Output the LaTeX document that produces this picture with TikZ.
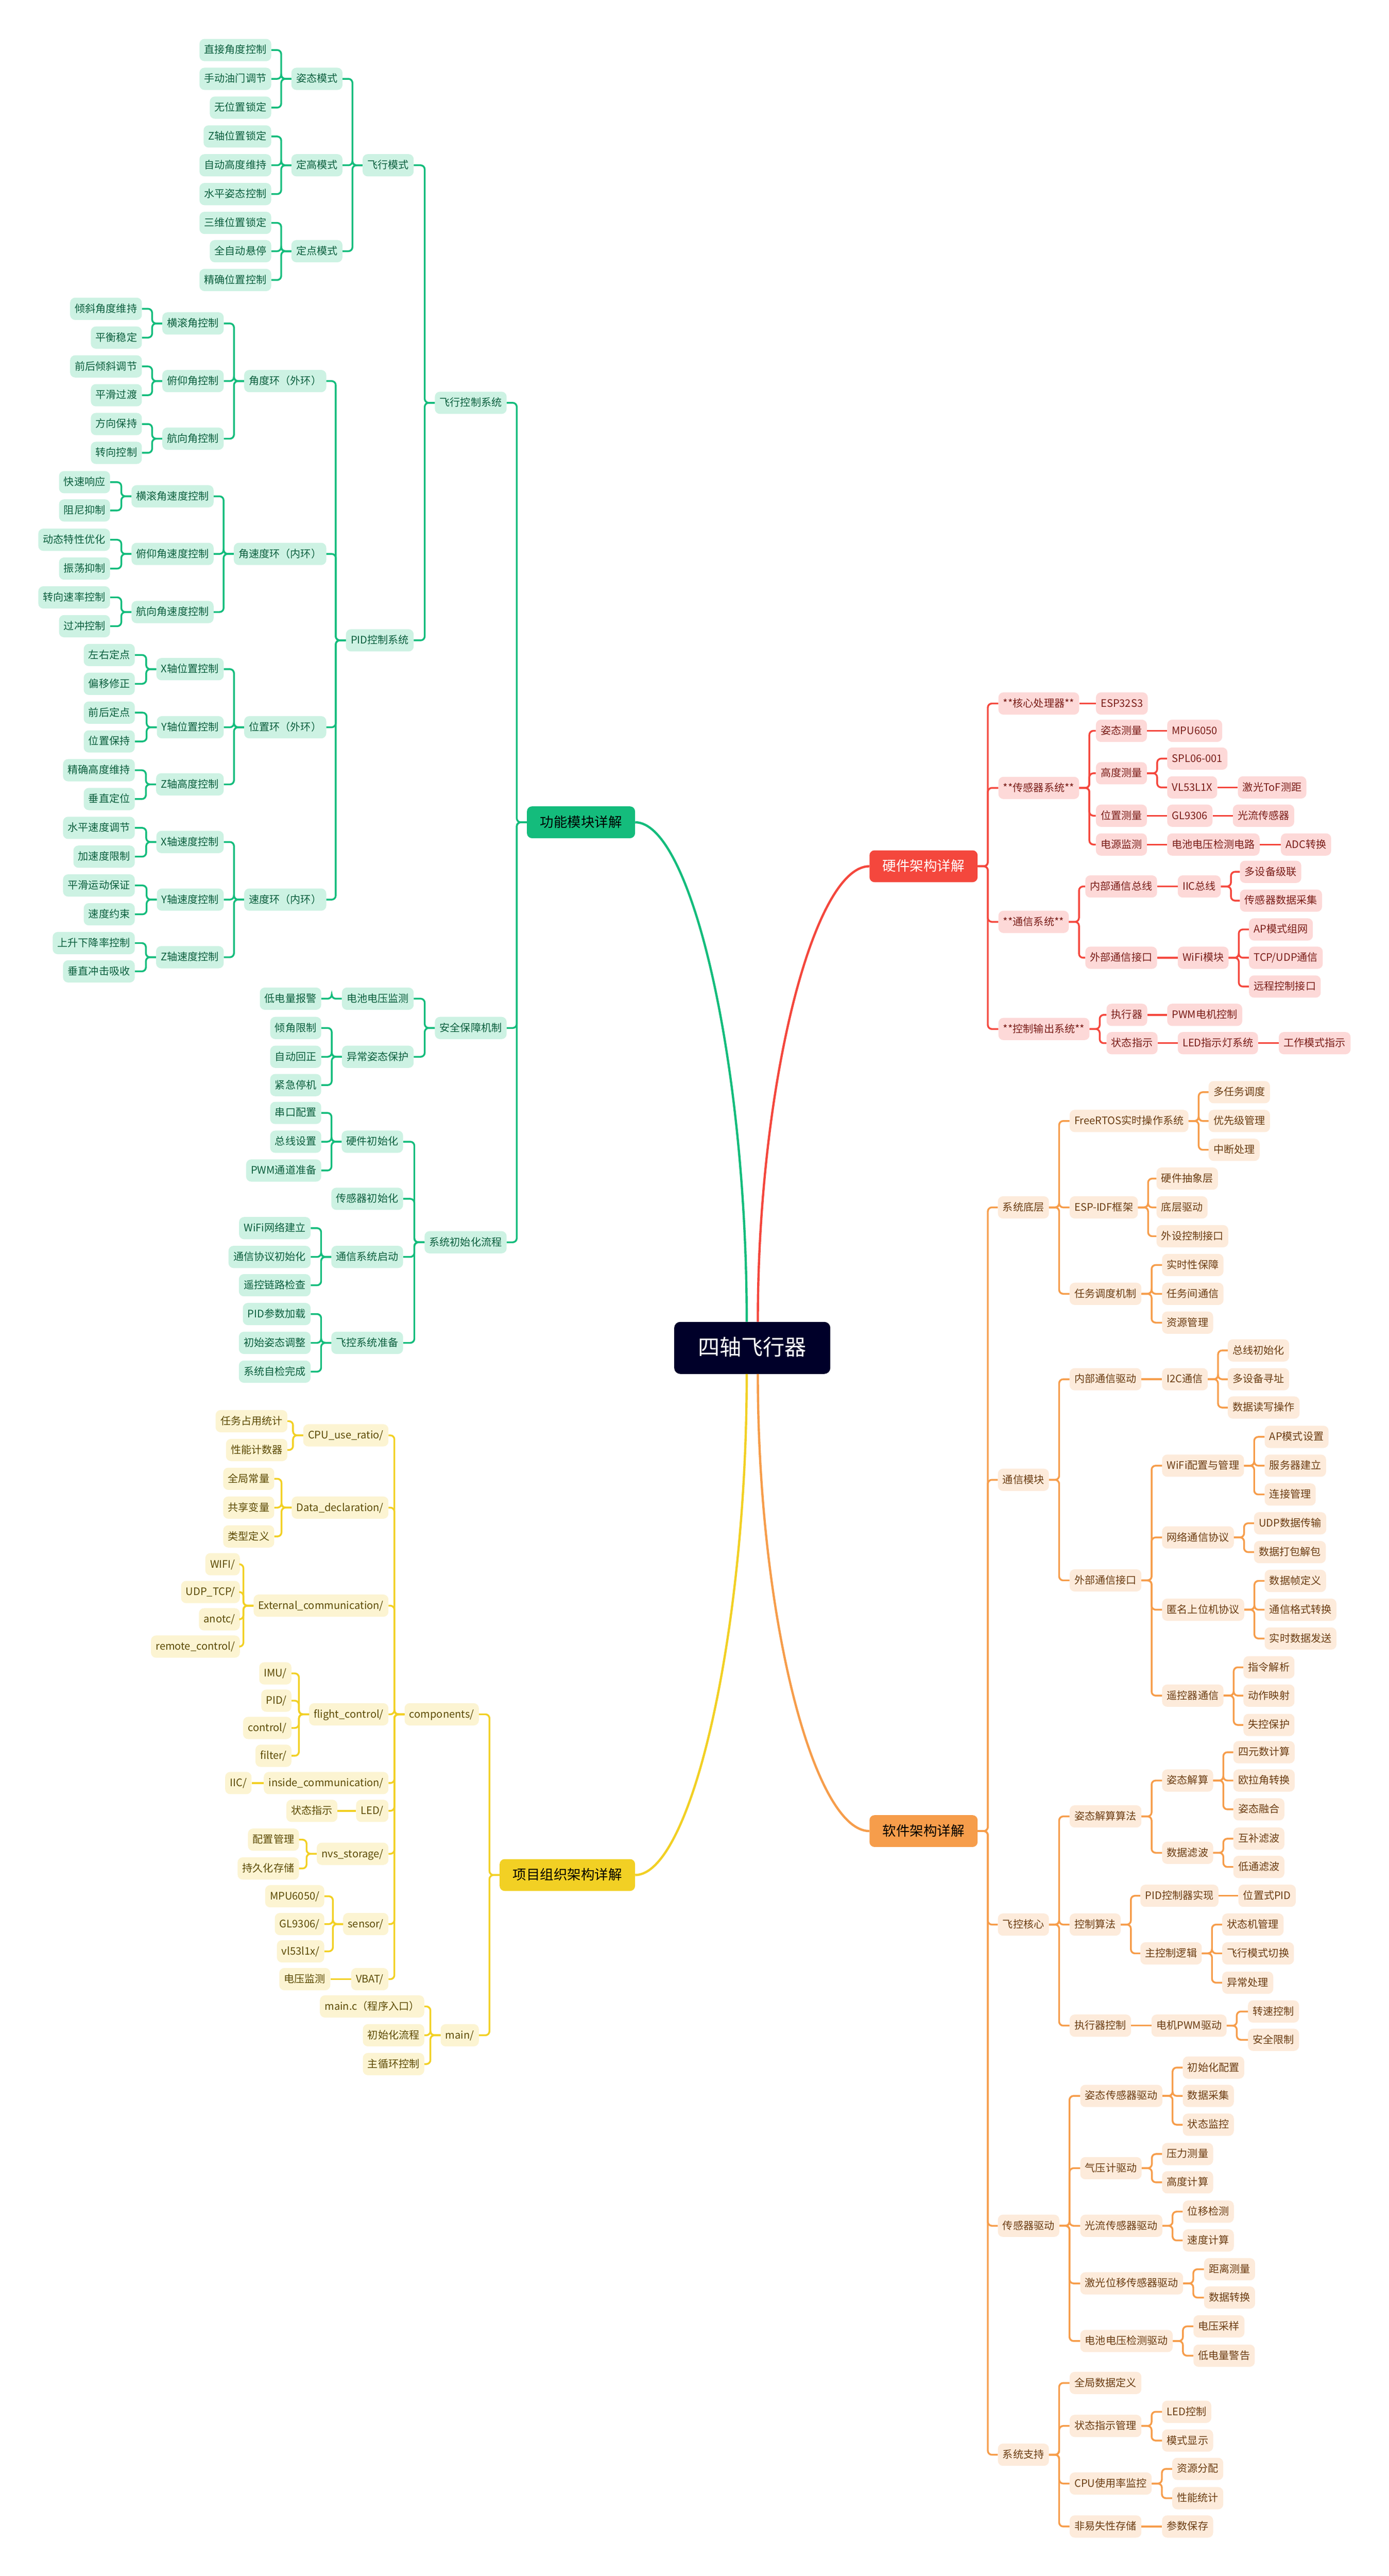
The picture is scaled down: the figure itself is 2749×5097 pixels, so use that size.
\documentclass[tikz,border=0pt]{standalone}
\usepackage{fontspec}
\setmainfont{Noto Sans CJK SC}
\definecolor{rootbg}{HTML}{000029}
\definecolor{gcol}{HTML}{14BC7C}
\definecolor{gfill}{HTML}{CDF2E3}
\definecolor{gtext}{HTML}{0B5E3D}
\definecolor{rcol}{HTML}{F4473D}
\definecolor{rfill}{HTML}{FDD9D8}
\definecolor{rtext}{HTML}{7A1D18}
\definecolor{ocol}{HTML}{F69D4B}
\definecolor{ofill}{HTML}{FDEBDB}
\definecolor{otext}{HTML}{6B3C12}
\definecolor{ycol}{HTML}{F2D024}
\definecolor{yfill}{HTML}{FCF4D2}
\definecolor{ytext}{HTML}{5C4A05}
\tikzset{
  box/.style={rounded corners=10pt,inner xsep=9.5pt,inner ysep=0pt,minimum height=44pt,
    text height=17pt,text depth=3pt,font=\fontsize{20.5}{24}\selectfont},
  gbox/.style={box,fill=gfill,text=gtext,anchor=east},
  ybox/.style={box,fill=yfill,text=ytext,anchor=east},
  rbox/.style={box,fill=rfill,text=rtext,anchor=west},
  obox/.style={box,fill=ofill,text=otext,anchor=west},
  topic/.style={rounded corners=10pt,inner xsep=26pt,inner ysep=0pt,minimum height=63pt,
    text height=23pt,text depth=4pt,font=\fontsize{27}{30}\selectfont},
  rootbox/.style={rounded corners=12pt,fill=rootbg,text=white,inner xsep=47pt,inner ysep=0pt,
    minimum height=103pt,text height=36pt,text depth=6pt,font=\fontsize{43}{46}\selectfont},
  gline/.style={draw=gcol,line width=3.5pt,rounded corners=8pt},
  yline/.style={draw=ycol,line width=3.5pt,rounded corners=8pt},
  rline/.style={draw=rcol,line width=3.5pt,rounded corners=8pt},
  oline/.style={draw=ocol,line width=3.5pt,rounded corners=8pt},
  curve/.style={line width=4.5pt}
}
\begin{document}
\begin{tikzpicture}[x=1pt,y=-1pt]
  \fill[white](0,0) rectangle (2749,5097);
  \useasboundingbox (0,0) rectangle (2749,5097);
  \node[rootbox](root) at (1489,2667) {四轴飞行器};
  \node[topic,fill=gcol,text=black](fm) at (1150,1627) {功能模块详解};
  \node[topic,fill=rcol,text=white](rm) at (1828,1714) {硬件架构详解};
  \node[topic,fill=ocol,text=black](om) at (1828,3623) {软件架构详解};
  \node[topic,fill=ycol,text=black](ym) at (1123,3710) {项目组织架构详解};
  \draw[curve,gcol]([xshift=-11pt]root.north)..controls +(0,-520) and +(110,0)..(fm.east);
  \draw[curve,rcol]([xshift=11pt]root.north)..controls +(0,-470) and +(-110,0)..(rm.west);
  \draw[curve,ycol]([xshift=-11pt]root.south)..controls +(0,520) and +(110,0)..(ym.east);
  \draw[curve,ocol]([xshift=11pt]root.south)..controls +(0,480) and +(-110,0)..(om.west);

  % 功能模块
  \node[gbox](g1) at (1003,797) {飞行控制系统};
  \node[gbox](g2) at (1003,2034) {安全保障机制};
  \node[gbox](g3) at (1003,2458) {系统初始化流程};
  \node[gbox](g11) at (819,327) {飞行模式};
  \node[gbox](g12) at (819,1267) {PID控制系统};
  \node[gbox](g111) at (678,156) {姿态模式};
  \node[gbox](g112) at (678,327) {定高模式};
  \node[gbox](g113) at (678,497) {定点模式};
  \node[gbox](g1111) at (537,99) {直接角度控制};
  \node[gbox](g1112) at (537,156) {手动油门调节};
  \node[gbox](g1113) at (537,213) {无位置锁定};
  \node[gbox](g1121) at (537,270) {Z轴位置锁定};
  \node[gbox](g1122) at (537,327) {自动高度维持};
  \node[gbox](g1123) at (537,384) {水平姿态控制};
  \node[gbox](g1131) at (537,441) {三维位置锁定};
  \node[gbox](g1132) at (537,497) {全自动悬停};
  \node[gbox](g1133) at (537,554) {精确位置控制};
  \node[gbox](g121) at (646,754) {角度环（外环）};
  \node[gbox](g122) at (646,1096) {角速度环（内环）};
  \node[gbox](g123) at (646,1439) {位置环（外环）};
  \node[gbox](g124) at (646,1780) {速度环（内环）};
  \node[gbox](g1211) at (443,640) {横滚角控制};
  \node[gbox](g1212) at (443,754) {俯仰角控制};
  \node[gbox](g1213) at (443,868) {航向角控制};
  \node[gbox](g12111) at (281,611) {倾斜角度维持};
  \node[gbox](g12112) at (281,668) {平衡稳定};
  \node[gbox](g12121) at (281,725) {前后倾斜调节};
  \node[gbox](g12122) at (281,782) {平滑过渡};
  \node[gbox](g12131) at (281,839) {方向保持};
  \node[gbox](g12132) at (281,896) {转向控制};
  \node[gbox](g1221) at (423,982) {横滚角速度控制};
  \node[gbox](g1222) at (423,1096) {俯仰角速度控制};
  \node[gbox](g1223) at (423,1211) {航向角速度控制};
  \node[gbox](g12211) at (218,954) {快速响应};
  \node[gbox](g12212) at (218,1010) {阻尼抑制};
  \node[gbox](g12221) at (218,1068) {动态特性优化};
  \node[gbox](g12222) at (218,1125) {振荡抑制};
  \node[gbox](g12231) at (218,1182) {转向速率控制};
  \node[gbox](g12232) at (218,1239) {过冲控制};
  \node[gbox](g1231) at (443,1324) {X轴位置控制};
  \node[gbox](g1232) at (443,1439) {Y轴位置控制};
  \node[gbox](g1233) at (443,1552) {Z轴高度控制};
  \node[gbox](g12311) at (267,1296) {左右定点};
  \node[gbox](g12312) at (267,1353) {偏移修正};
  \node[gbox](g12321) at (267,1410) {前后定点};
  \node[gbox](g12322) at (267,1467) {位置保持};
  \node[gbox](g12331) at (267,1524) {精确高度维持};
  \node[gbox](g12332) at (267,1581) {垂直定位};
  \node[gbox](g1241) at (443,1666) {X轴速度控制};
  \node[gbox](g1242) at (443,1780) {Y轴速度控制};
  \node[gbox](g1243) at (443,1894) {Z轴速度控制};
  \node[gbox](g12411) at (267,1638) {水平速度调节};
  \node[gbox](g12412) at (267,1695) {加速度限制};
  \node[gbox](g12421) at (267,1752) {平滑运动保证};
  \node[gbox](g12422) at (267,1809) {速度约束};
  \node[gbox](g12431) at (267,1866) {上升下降率控制};
  \node[gbox](g12432) at (267,1922) {垂直冲击吸收};
  \node[gbox](g21) at (819,1976) {电池电压监测};
  \node[gbox](g22) at (819,2091) {异常姿态保护};
  \node[gbox](g211) at (636,1976) {低电量报警};
  \node[gbox](g221) at (636,2034) {倾角限制};
  \node[gbox](g222) at (636,2091) {自动回正};
  \node[gbox](g223) at (636,2147) {紧急停机};
  \node[gbox](g31) at (798,2259) {硬件初始化};
  \node[gbox](g32) at (798,2372) {传感器初始化};
  \node[gbox](g33) at (798,2487) {通信系统启动};
  \node[gbox](g34) at (798,2657) {飞控系统准备};
  \node[gbox](g311) at (636,2202) {串口配置};
  \node[gbox](g312) at (636,2259) {总线设置};
  \node[gbox](g313) at (636,2316) {PWM通道准备};
  \node[gbox](g331) at (615,2430) {WiFi网络建立};
  \node[gbox](g332) at (615,2487) {通信协议初始化};
  \node[gbox](g333) at (615,2543) {遥控链路检查};
  \node[gbox](g341) at (615,2600) {PID参数加载};
  \node[gbox](g342) at (615,2657) {初始姿态调整};
  \node[gbox](g343) at (615,2714) {系统自检完成};
  \draw[gline](fm.west)--++(-20,0)|-(g1.east);
  \draw[gline](fm.west)--++(-20,0)|-(g2.east);
  \draw[gline](fm.west)--++(-20,0)|-(g3.east);
  \draw[gline](g1.west)--++(-20,0)|-(g11.east);
  \draw[gline](g1.west)--++(-20,0)|-(g12.east);
  \draw[gline](g11.west)--++(-20,0)|-(g111.east);
  \draw[gline](g11.west)--++(-20,0)|-(g112.east);
  \draw[gline](g11.west)--++(-20,0)|-(g113.east);
  \draw[gline](g111.west)--++(-20,0)|-(g1111.east);
  \draw[gline](g111.west)--++(-20,0)|-(g1112.east);
  \draw[gline](g111.west)--++(-20,0)|-(g1113.east);
  \draw[gline](g112.west)--++(-20,0)|-(g1121.east);
  \draw[gline](g112.west)--++(-20,0)|-(g1122.east);
  \draw[gline](g112.west)--++(-20,0)|-(g1123.east);
  \draw[gline](g113.west)--++(-20,0)|-(g1131.east);
  \draw[gline](g113.west)--++(-20,0)|-(g1132.east);
  \draw[gline](g113.west)--++(-20,0)|-(g1133.east);
  \draw[gline](g12.west)--++(-20,0)|-(g121.east);
  \draw[gline](g12.west)--++(-20,0)|-(g122.east);
  \draw[gline](g12.west)--++(-20,0)|-(g123.east);
  \draw[gline](g12.west)--++(-20,0)|-(g124.east);
  \draw[gline](g121.west)--++(-20,0)|-(g1211.east);
  \draw[gline](g121.west)--++(-20,0)|-(g1212.east);
  \draw[gline](g121.west)--++(-20,0)|-(g1213.east);
  \draw[gline](g1211.west)--++(-20,0)|-(g12111.east);
  \draw[gline](g1211.west)--++(-20,0)|-(g12112.east);
  \draw[gline](g1212.west)--++(-20,0)|-(g12121.east);
  \draw[gline](g1212.west)--++(-20,0)|-(g12122.east);
  \draw[gline](g1213.west)--++(-20,0)|-(g12131.east);
  \draw[gline](g1213.west)--++(-20,0)|-(g12132.east);
  \draw[gline](g122.west)--++(-20,0)|-(g1221.east);
  \draw[gline](g122.west)--++(-20,0)|-(g1222.east);
  \draw[gline](g122.west)--++(-20,0)|-(g1223.east);
  \draw[gline](g1221.west)--++(-20,0)|-(g12211.east);
  \draw[gline](g1221.west)--++(-20,0)|-(g12212.east);
  \draw[gline](g1222.west)--++(-20,0)|-(g12221.east);
  \draw[gline](g1222.west)--++(-20,0)|-(g12222.east);
  \draw[gline](g1223.west)--++(-20,0)|-(g12231.east);
  \draw[gline](g1223.west)--++(-20,0)|-(g12232.east);
  \draw[gline](g123.west)--++(-20,0)|-(g1231.east);
  \draw[gline](g123.west)--++(-20,0)|-(g1232.east);
  \draw[gline](g123.west)--++(-20,0)|-(g1233.east);
  \draw[gline](g1231.west)--++(-20,0)|-(g12311.east);
  \draw[gline](g1231.west)--++(-20,0)|-(g12312.east);
  \draw[gline](g1232.west)--++(-20,0)|-(g12321.east);
  \draw[gline](g1232.west)--++(-20,0)|-(g12322.east);
  \draw[gline](g1233.west)--++(-20,0)|-(g12331.east);
  \draw[gline](g1233.west)--++(-20,0)|-(g12332.east);
  \draw[gline](g124.west)--++(-20,0)|-(g1241.east);
  \draw[gline](g124.west)--++(-20,0)|-(g1242.east);
  \draw[gline](g124.west)--++(-20,0)|-(g1243.east);
  \draw[gline](g1241.west)--++(-20,0)|-(g12411.east);
  \draw[gline](g1241.west)--++(-20,0)|-(g12412.east);
  \draw[gline](g1242.west)--++(-20,0)|-(g12421.east);
  \draw[gline](g1242.west)--++(-20,0)|-(g12422.east);
  \draw[gline](g1243.west)--++(-20,0)|-(g12431.east);
  \draw[gline](g1243.west)--++(-20,0)|-(g12432.east);
  \draw[gline](g2.west)--++(-20,0)|-(g21.east);
  \draw[gline](g2.west)--++(-20,0)|-(g22.east);
  \draw[gline](g21.west)--++(-20,0)|-(g211.east);
  \draw[gline](g22.west)--++(-20,0)|-(g221.east);
  \draw[gline](g22.west)--++(-20,0)|-(g222.east);
  \draw[gline](g22.west)--++(-20,0)|-(g223.east);
  \draw[gline](g3.west)--++(-20,0)|-(g31.east);
  \draw[gline](g3.west)--++(-20,0)|-(g32.east);
  \draw[gline](g3.west)--++(-20,0)|-(g33.east);
  \draw[gline](g3.west)--++(-20,0)|-(g34.east);
  \draw[gline](g31.west)--++(-20,0)|-(g311.east);
  \draw[gline](g31.west)--++(-20,0)|-(g312.east);
  \draw[gline](g31.west)--++(-20,0)|-(g313.east);
  \draw[gline](g33.west)--++(-20,0)|-(g331.east);
  \draw[gline](g33.west)--++(-20,0)|-(g332.east);
  \draw[gline](g33.west)--++(-20,0)|-(g333.east);
  \draw[gline](g34.west)--++(-20,0)|-(g341.east);
  \draw[gline](g34.west)--++(-20,0)|-(g342.east);
  \draw[gline](g34.west)--++(-20,0)|-(g343.east);

  % 项目组织
  \node[ybox](y1) at (948,3392) {components/};
  \node[ybox](y2) at (948,4027) {main/};
  \node[ybox](y11) at (769,2840) {CPU\_use\_ratio/};
  \node[ybox](y12) at (769,2983) {Data\_declaration/};
  \node[ybox](y13) at (769,3177) {External\_communication/};
  \node[ybox](y14) at (769,3392) {flight\_control/};
  \node[ybox](y15) at (769,3528) {inside\_communication/};
  \node[ybox](y16) at (769,3583) {LED/};
  \node[ybox](y17) at (769,3668) {nvs\_storage/};
  \node[ybox](y18) at (769,3807) {sensor/};
  \node[ybox](y19) at (769,3916) {VBAT/};
  \node[ybox](y111) at (569,2812) {任务占用统计};
  \node[ybox](y112) at (569,2869) {性能计数器};
  \node[ybox](y121) at (543,2926) {全局常量};
  \node[ybox](y122) at (543,2983) {共享变量};
  \node[ybox](y123) at (543,3040) {类型定义};
  \node[ybox](y131) at (475,3095) {WIFI/};
  \node[ybox](y132) at (475,3150) {UDP\_TCP/};
  \node[ybox](y133) at (475,3204) {anotc/};
  \node[ybox](y134) at (475,3258) {remote\_control/};
  \node[ybox](y141) at (577,3311) {IMU/};
  \node[ybox](y142) at (577,3365) {PID/};
  \node[ybox](y143) at (577,3419) {control/};
  \node[ybox](y144) at (577,3474) {filter/};
  \node[ybox](y151) at (498,3528) {IIC/};
  \node[ybox](y161) at (668,3583) {状态指示};
  \node[ybox](y171) at (592,3640) {配置管理};
  \node[ybox](y172) at (592,3697) {持久化存储};
  \node[ybox](y181) at (642,3752) {MPU6050/};
  \node[ybox](y182) at (642,3807) {GL9306/};
  \node[ybox](y183) at (642,3861) {vl53l1x/};
  \node[ybox](y191) at (654,3916) {电压监测};
  \node[ybox](y21) at (840,3970) {main.c（程序入口）};
  \node[ybox](y22) at (840,4027) {初始化流程};
  \node[ybox](y23) at (840,4084) {主循环控制};
  \draw[yline](ym.west)--++(-20,0)|-(y1.east);
  \draw[yline](ym.west)--++(-20,0)|-(y2.east);
  \draw[yline](y1.west)--++(-20,0)|-(y11.east);
  \draw[yline](y1.west)--++(-20,0)|-(y12.east);
  \draw[yline](y1.west)--++(-20,0)|-(y13.east);
  \draw[yline](y1.west)--++(-20,0)|-(y14.east);
  \draw[yline](y1.west)--++(-20,0)|-(y15.east);
  \draw[yline](y1.west)--++(-20,0)|-(y16.east);
  \draw[yline](y1.west)--++(-20,0)|-(y17.east);
  \draw[yline](y1.west)--++(-20,0)|-(y18.east);
  \draw[yline](y1.west)--++(-20,0)|-(y19.east);
  \draw[yline](y11.west)--++(-20,0)|-(y111.east);
  \draw[yline](y11.west)--++(-20,0)|-(y112.east);
  \draw[yline](y12.west)--++(-20,0)|-(y121.east);
  \draw[yline](y12.west)--++(-20,0)|-(y122.east);
  \draw[yline](y12.west)--++(-20,0)|-(y123.east);
  \draw[yline](y13.west)--++(-20,0)|-(y131.east);
  \draw[yline](y13.west)--++(-20,0)|-(y132.east);
  \draw[yline](y13.west)--++(-20,0)|-(y133.east);
  \draw[yline](y13.west)--++(-20,0)|-(y134.east);
  \draw[yline](y14.west)--++(-20,0)|-(y141.east);
  \draw[yline](y14.west)--++(-20,0)|-(y142.east);
  \draw[yline](y14.west)--++(-20,0)|-(y143.east);
  \draw[yline](y14.west)--++(-20,0)|-(y144.east);
  \draw[yline](y15.west)--(y151.east);
  \draw[yline](y16.west)--(y161.east);
  \draw[yline](y17.west)--++(-20,0)|-(y171.east);
  \draw[yline](y17.west)--++(-20,0)|-(y172.east);
  \draw[yline](y18.west)--++(-20,0)|-(y181.east);
  \draw[yline](y18.west)--++(-20,0)|-(y182.east);
  \draw[yline](y18.west)--++(-20,0)|-(y183.east);
  \draw[yline](y19.west)--(y191.east);
  \draw[yline](y2.west)--++(-20,0)|-(y21.east);
  \draw[yline](y2.west)--++(-20,0)|-(y22.east);
  \draw[yline](y2.west)--++(-20,0)|-(y23.east);

  % 硬件架构
  \node[rbox](r1) at (1976,1392) {**核心处理器**};
  \node[rbox](r2) at (1976,1559) {**传感器系统**};
  \node[rbox](r3) at (1976,1824) {**通信系统**};
  \node[rbox](r4) at (1976,2036) {**控制输出系统**};
  \node[rbox](r11) at (2169,1392) {ESP32S3};
  \node[rbox](r21) at (2169,1446) {姿态测量};
  \node[rbox](r22) at (2169,1530) {高度测量};
  \node[rbox](r23) at (2169,1614) {位置测量};
  \node[rbox](r24) at (2169,1671) {电源监测};
  \node[rbox](r211) at (2310,1446) {MPU6050};
  \node[rbox](r221) at (2310,1501) {SPL06-001};
  \node[rbox](r222) at (2310,1558) {VL53L1X};
  \node[rbox](r2221) at (2450,1558) {激光ToF测距};
  \node[rbox](r231) at (2310,1614) {GL9306};
  \node[rbox](r2311) at (2440,1614) {光流传感器};
  \node[rbox](r241) at (2310,1671) {电池电压检测电路};
  \node[rbox](r2411) at (2535,1671) {ADC转换};
  \node[rbox](r31) at (2148,1754) {内部通信总线};
  \node[rbox](r32) at (2148,1895) {外部通信接口};
  \node[rbox](r311) at (2331,1754) {IIC总线};
  \node[rbox](r3111) at (2454,1725) {多设备级联};
  \node[rbox](r3112) at (2454,1782) {传感器数据采集};
  \node[rbox](r321) at (2331,1895) {WiFi模块};
  \node[rbox](r3211) at (2472,1839) {AP模式组网};
  \node[rbox](r3212) at (2472,1895) {TCP/UDP通信};
  \node[rbox](r3213) at (2472,1952) {远程控制接口};
  \node[rbox](r41) at (2190,2008) {执行器};
  \node[rbox](r42) at (2190,2064) {状态指示};
  \node[rbox](r411) at (2310,2008) {PWM电机控制};
  \node[rbox](r421) at (2331,2064) {LED指示灯系统};
  \node[rbox](r4211) at (2531,2064) {工作模式指示};
  \draw[rline](rm.east)--++(20,0)|-(r1.west);
  \draw[rline](rm.east)--++(20,0)|-(r2.west);
  \draw[rline](rm.east)--++(20,0)|-(r3.west);
  \draw[rline](rm.east)--++(20,0)|-(r4.west);
  \draw[rline](r1.east)--(r11.west);
  \draw[rline](r2.east)--++(20,0)|-(r21.west);
  \draw[rline](r2.east)--++(20,0)|-(r22.west);
  \draw[rline](r2.east)--++(20,0)|-(r23.west);
  \draw[rline](r2.east)--++(20,0)|-(r24.west);
  \draw[rline](r21.east)--(r211.west);
  \draw[rline](r22.east)--++(20,0)|-(r221.west);
  \draw[rline](r22.east)--++(20,0)|-(r222.west);
  \draw[rline](r222.east)--(r2221.west);
  \draw[rline](r23.east)--(r231.west);
  \draw[rline](r231.east)--(r2311.west);
  \draw[rline](r24.east)--(r241.west);
  \draw[rline](r241.east)--(r2411.west);
  \draw[rline](r3.east)--++(20,0)|-(r31.west);
  \draw[rline](r3.east)--++(20,0)|-(r32.west);
  \draw[rline](r31.east)--(r311.west);
  \draw[rline](r311.east)--++(20,0)|-(r3111.west);
  \draw[rline](r311.east)--++(20,0)|-(r3112.west);
  \draw[rline](r32.east)--(r321.west);
  \draw[rline](r321.east)--++(20,0)|-(r3211.west);
  \draw[rline](r321.east)--++(20,0)|-(r3212.west);
  \draw[rline](r321.east)--++(20,0)|-(r3213.west);
  \draw[rline](r4.east)--++(20,0)|-(r41.west);
  \draw[rline](r4.east)--++(20,0)|-(r42.west);
  \draw[rline](r41.east)--(r411.west);
  \draw[rline](r42.east)--(r421.west);
  \draw[rline](r421.east)--(r4211.west);

  % 软件架构
  \node[obox](o1) at (1975,2389) {系统底层};
  \node[obox](o2) at (1975,2928) {通信模块};
  \node[obox](o3) at (1975,3808) {飞控核心};
  \node[obox](o4) at (1975,4404) {传感器驱动};
  \node[obox](o5) at (1975,4857) {系统支持};
  \node[obox](o11) at (2117,2218) {FreeRTOS实时操作系统};
  \node[obox](o12) at (2117,2389) {ESP-IDF框架};
  \node[obox](o13) at (2117,2560) {任务调度机制};
  \node[obox](o111) at (2392,2161) {多任务调度};
  \node[obox](o112) at (2392,2218) {优先级管理};
  \node[obox](o113) at (2392,2275) {中断处理};
  \node[obox](o121) at (2289,2332) {硬件抽象层};
  \node[obox](o122) at (2289,2389) {底层驱动};
  \node[obox](o123) at (2289,2446) {外设控制接口};
  \node[obox](o131) at (2300,2503) {实时性保障};
  \node[obox](o132) at (2300,2560) {任务间通信};
  \node[obox](o133) at (2300,2617) {资源管理};
  \node[obox](o21) at (2117,2729) {内部通信驱动};
  \node[obox](o22) at (2117,3127) {外部通信接口};
  \node[obox](o211) at (2300,2729) {I2C通信};
  \node[obox](o2111) at (2430,2672) {总线初始化};
  \node[obox](o2112) at (2430,2729) {多设备寻址};
  \node[obox](o2113) at (2430,2785) {数据读写操作};
  \node[obox](o221) at (2300,2900) {WiFi配置与管理};
  \node[obox](o2211) at (2503,2843) {AP模式设置};
  \node[obox](o2212) at (2503,2900) {服务器建立};
  \node[obox](o2213) at (2503,2957) {连接管理};
  \node[obox](o222) at (2300,3042) {网络通信协议};
  \node[obox](o2221) at (2482,3014) {UDP数据传输};
  \node[obox](o2222) at (2482,3071) {数据打包解包};
  \node[obox](o223) at (2300,3185) {匿名上位机协议};
  \node[obox](o2231) at (2503,3128) {数据帧定义};
  \node[obox](o2232) at (2503,3185) {通信格式转换};
  \node[obox](o2233) at (2503,3242) {实时数据发送};
  \node[obox](o224) at (2300,3355) {遥控器通信};
  \node[obox](o2241) at (2461,3299) {指令解析};
  \node[obox](o2242) at (2461,3355) {动作映射};
  \node[obox](o2243) at (2461,3413) {失控保护};
  \node[obox](o31) at (2117,3594) {姿态解算算法};
  \node[obox](o32) at (2117,3808) {控制算法};
  \node[obox](o33) at (2117,4008) {执行器控制};
  \node[obox](o311) at (2300,3523) {姿态解算};
  \node[obox](o312) at (2300,3666) {数据滤波};
  \node[obox](o3111) at (2441,3467) {四元数计算};
  \node[obox](o3112) at (2441,3523) {欧拉角转换};
  \node[obox](o3113) at (2441,3580) {姿态融合};
  \node[obox](o3121) at (2441,3638) {互补滤波};
  \node[obox](o3122) at (2441,3694) {低通滤波};
  \node[obox](o321) at (2257,3751) {PID控制器实现};
  \node[obox](o3211) at (2451,3751) {位置式PID};
  \node[obox](o322) at (2257,3865) {主控制逻辑};
  \node[obox](o3221) at (2419,3808) {状态机管理};
  \node[obox](o3222) at (2419,3865) {飞行模式切换};
  \node[obox](o3223) at (2419,3923) {异常处理};
  \node[obox](o331) at (2279,4008) {电机PWM驱动};
  \node[obox](o3311) at (2470,3980) {转速控制};
  \node[obox](o3312) at (2470,4036) {安全限制};
  \node[obox](o41) at (2138,4147) {姿态传感器驱动};
  \node[obox](o42) at (2138,4290) {气压计驱动};
  \node[obox](o43) at (2138,4404) {光流传感器驱动};
  \node[obox](o44) at (2138,4518) {激光位移传感器驱动};
  \node[obox](o45) at (2138,4632) {电池电压检测驱动};
  \node[obox](o411) at (2341,4091) {初始化配置};
  \node[obox](o412) at (2341,4147) {数据采集};
  \node[obox](o413) at (2341,4204) {状态监控};
  \node[obox](o421) at (2300,4262) {压力测量};
  \node[obox](o422) at (2300,4318) {高度计算};
  \node[obox](o431) at (2341,4376) {位移检测};
  \node[obox](o432) at (2341,4433) {速度计算};
  \node[obox](o441) at (2383,4490) {距离测量};
  \node[obox](o442) at (2383,4546) {数据转换};
  \node[obox](o451) at (2362,4603) {电压采样};
  \node[obox](o452) at (2362,4661) {低电量警告};
  \node[obox](o51) at (2117,4715) {全局数据定义};
  \node[obox](o52) at (2117,4800) {状态指示管理};
  \node[obox](o53) at (2117,4914) {CPU使用率监控};
  \node[obox](o54) at (2117,4999) {非易失性存储};
  \node[obox](o521) at (2300,4772) {LED控制};
  \node[obox](o522) at (2300,4829) {模式显示};
  \node[obox](o531) at (2320,4885) {资源分配};
  \node[obox](o532) at (2320,4943) {性能统计};
  \node[obox](o541) at (2300,4999) {参数保存};
  \draw[oline](om.east)--++(20,0)|-(o1.west);
  \draw[oline](om.east)--++(20,0)|-(o2.west);
  \draw[oline](om.east)--++(20,0)|-(o3.west);
  \draw[oline](om.east)--++(20,0)|-(o4.west);
  \draw[oline](om.east)--++(20,0)|-(o5.west);
  \draw[oline](o1.east)--++(20,0)|-(o11.west);
  \draw[oline](o1.east)--++(20,0)|-(o12.west);
  \draw[oline](o1.east)--++(20,0)|-(o13.west);
  \draw[oline](o11.east)--++(20,0)|-(o111.west);
  \draw[oline](o11.east)--++(20,0)|-(o112.west);
  \draw[oline](o11.east)--++(20,0)|-(o113.west);
  \draw[oline](o12.east)--++(20,0)|-(o121.west);
  \draw[oline](o12.east)--++(20,0)|-(o122.west);
  \draw[oline](o12.east)--++(20,0)|-(o123.west);
  \draw[oline](o13.east)--++(20,0)|-(o131.west);
  \draw[oline](o13.east)--++(20,0)|-(o132.west);
  \draw[oline](o13.east)--++(20,0)|-(o133.west);
  \draw[oline](o2.east)--++(20,0)|-(o21.west);
  \draw[oline](o2.east)--++(20,0)|-(o22.west);
  \draw[oline](o21.east)--(o211.west);
  \draw[oline](o211.east)--++(20,0)|-(o2111.west);
  \draw[oline](o211.east)--++(20,0)|-(o2112.west);
  \draw[oline](o211.east)--++(20,0)|-(o2113.west);
  \draw[oline](o22.east)--++(20,0)|-(o221.west);
  \draw[oline](o22.east)--++(20,0)|-(o222.west);
  \draw[oline](o22.east)--++(20,0)|-(o223.west);
  \draw[oline](o22.east)--++(20,0)|-(o224.west);
  \draw[oline](o221.east)--++(20,0)|-(o2211.west);
  \draw[oline](o221.east)--++(20,0)|-(o2212.west);
  \draw[oline](o221.east)--++(20,0)|-(o2213.west);
  \draw[oline](o222.east)--++(20,0)|-(o2221.west);
  \draw[oline](o222.east)--++(20,0)|-(o2222.west);
  \draw[oline](o223.east)--++(20,0)|-(o2231.west);
  \draw[oline](o223.east)--++(20,0)|-(o2232.west);
  \draw[oline](o223.east)--++(20,0)|-(o2233.west);
  \draw[oline](o224.east)--++(20,0)|-(o2241.west);
  \draw[oline](o224.east)--++(20,0)|-(o2242.west);
  \draw[oline](o224.east)--++(20,0)|-(o2243.west);
  \draw[oline](o3.east)--++(20,0)|-(o31.west);
  \draw[oline](o3.east)--++(20,0)|-(o32.west);
  \draw[oline](o3.east)--++(20,0)|-(o33.west);
  \draw[oline](o31.east)--++(20,0)|-(o311.west);
  \draw[oline](o31.east)--++(20,0)|-(o312.west);
  \draw[oline](o311.east)--++(20,0)|-(o3111.west);
  \draw[oline](o311.east)--++(20,0)|-(o3112.west);
  \draw[oline](o311.east)--++(20,0)|-(o3113.west);
  \draw[oline](o312.east)--++(20,0)|-(o3121.west);
  \draw[oline](o312.east)--++(20,0)|-(o3122.west);
  \draw[oline](o32.east)--++(20,0)|-(o321.west);
  \draw[oline](o32.east)--++(20,0)|-(o322.west);
  \draw[oline](o321.east)--(o3211.west);
  \draw[oline](o322.east)--++(20,0)|-(o3221.west);
  \draw[oline](o322.east)--++(20,0)|-(o3222.west);
  \draw[oline](o322.east)--++(20,0)|-(o3223.west);
  \draw[oline](o33.east)--(o331.west);
  \draw[oline](o331.east)--++(20,0)|-(o3311.west);
  \draw[oline](o331.east)--++(20,0)|-(o3312.west);
  \draw[oline](o4.east)--++(20,0)|-(o41.west);
  \draw[oline](o4.east)--++(20,0)|-(o42.west);
  \draw[oline](o4.east)--++(20,0)|-(o43.west);
  \draw[oline](o4.east)--++(20,0)|-(o44.west);
  \draw[oline](o4.east)--++(20,0)|-(o45.west);
  \draw[oline](o41.east)--++(20,0)|-(o411.west);
  \draw[oline](o41.east)--++(20,0)|-(o412.west);
  \draw[oline](o41.east)--++(20,0)|-(o413.west);
  \draw[oline](o42.east)--++(20,0)|-(o421.west);
  \draw[oline](o42.east)--++(20,0)|-(o422.west);
  \draw[oline](o43.east)--++(20,0)|-(o431.west);
  \draw[oline](o43.east)--++(20,0)|-(o432.west);
  \draw[oline](o44.east)--++(20,0)|-(o441.west);
  \draw[oline](o44.east)--++(20,0)|-(o442.west);
  \draw[oline](o45.east)--++(20,0)|-(o451.west);
  \draw[oline](o45.east)--++(20,0)|-(o452.west);
  \draw[oline](o5.east)--++(20,0)|-(o51.west);
  \draw[oline](o5.east)--++(20,0)|-(o52.west);
  \draw[oline](o5.east)--++(20,0)|-(o53.west);
  \draw[oline](o5.east)--++(20,0)|-(o54.west);
  \draw[oline](o52.east)--++(20,0)|-(o521.west);
  \draw[oline](o52.east)--++(20,0)|-(o522.west);
  \draw[oline](o53.east)--++(20,0)|-(o531.west);
  \draw[oline](o53.east)--++(20,0)|-(o532.west);
  \draw[oline](o54.east)--(o541.west);
\end{tikzpicture}
\end{document}
